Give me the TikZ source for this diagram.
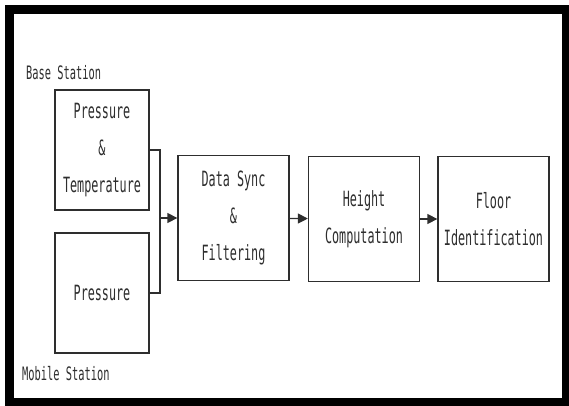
\documentclass[tikz,border=0pt]{standalone}
\usepackage{xcolor}
\usepackage{fontspec}
\usepackage{tikz}
\usetikzlibrary{arrows.meta, positioning, calc}
\newfontfamily\blockfont[FakeStretch=0.56]{DejaVu Sans Mono}
\definecolor{fdInk}{HTML}{2E2E2E}

\begin{document}
\begin{tikzpicture}[x=1pt, y=-1pt,
    stage/.style={draw=fdInk, line width=1.3pt, fill=white, text=fdInk,
      minimum width=111pt, minimum height=125pt, inner sep=0pt, align=center,
      font=\blockfont\fontsize{21}{37}\selectfont},
    sensor/.style={stage, minimum width=94pt, minimum height=120pt},
    tag/.style={text=fdInk, inner sep=0pt, anchor=west,
      font=\blockfont\fontsize{18.5}{20}\selectfont},
    flow/.style={draw=fdInk, line width=1.3pt, -{Triangle[length=10pt,width=10pt]}}]
  \useasboundingbox (0,0) rectangle (569,406);
  \draw[line width=9pt] (9.5,10) rectangle (566,402);

  % sensors on the two stations
  \node[sensor] (bs) at (102,150) {Pressure\\\&\\Temperature};
  \node[sensor] (ms) at (102,293) {Pressure};
  \node[tag] (bslabel) at (26,73) {Base Station};
  \node[tag] (mslabel) at (22,374) {Mobile Station};

  % processing chain
  \node[stage] (sync) at (233.5,218) {Data Sync\\\&\\Filtering};
  \node[stage] (height) at (364,219) {Height\\Computation};
  \node[stage] (floor) at (493.5,219) {Floor\\Identification};

  \coordinate (join) at (160,218);
  \draw[draw=fdInk, line width=1.3pt] (bs.east) -| (join) |- (ms.east);
  \draw[flow] (join) -- (sync);
  \draw[flow] (sync) -- (height);
  \draw[flow] (height) -- (floor);
\end{tikzpicture}
\end{document}
